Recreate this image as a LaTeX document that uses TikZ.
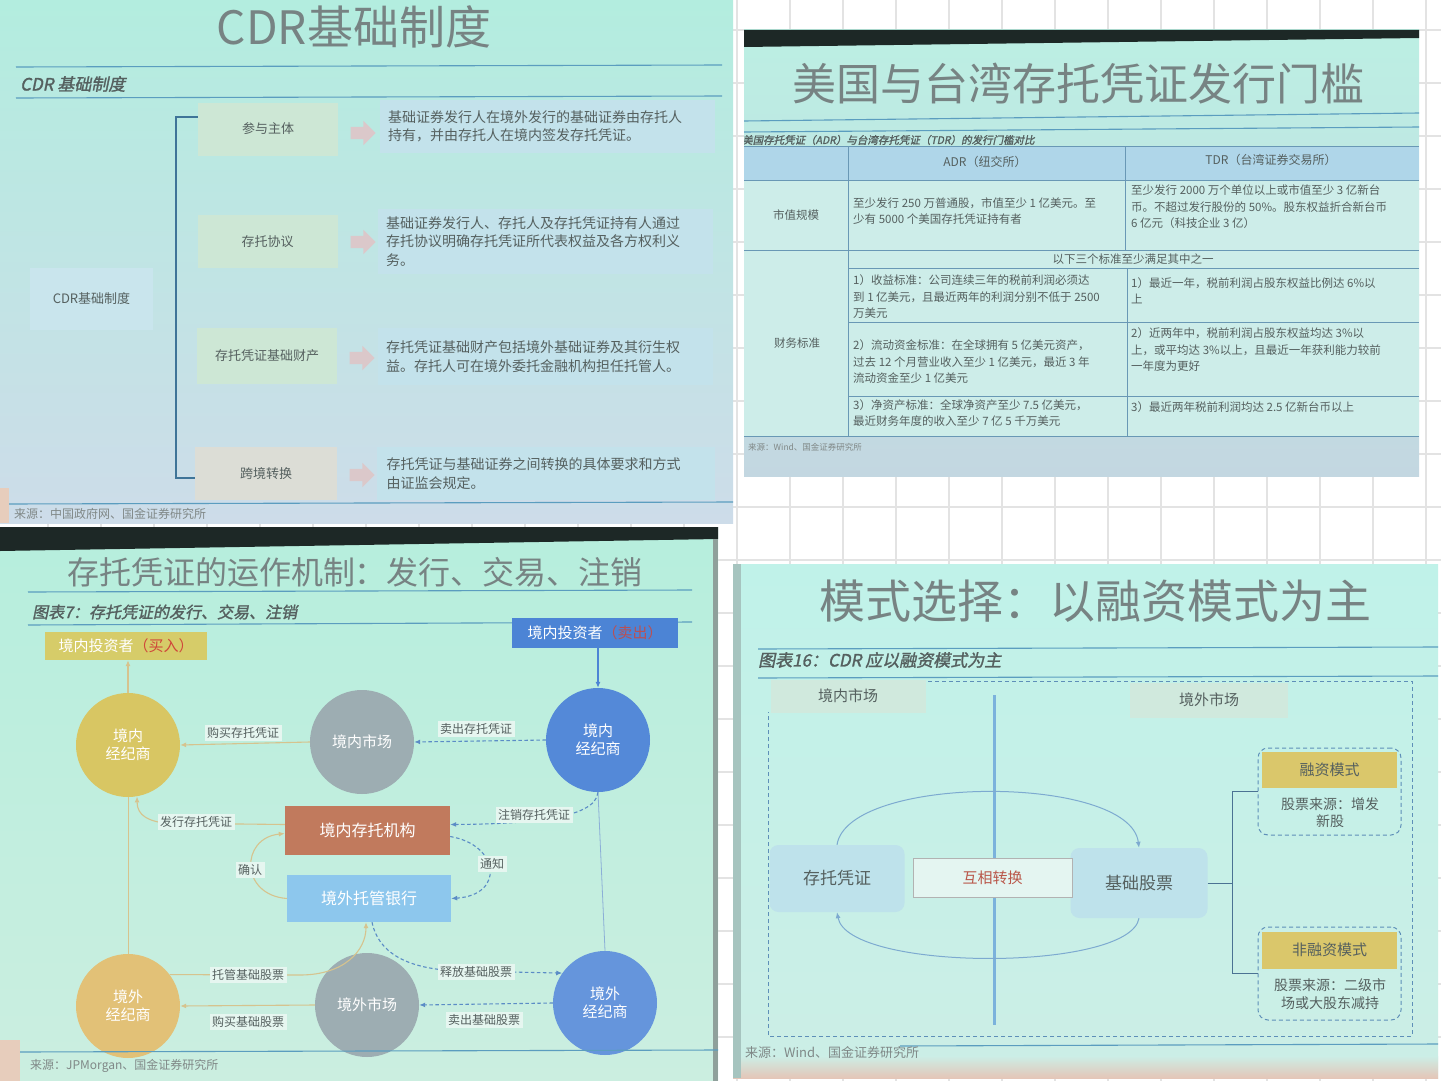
\documentclass[tikz,border=0pt]{standalone}
\usepackage{fontspec}
\setmainfont{Noto Sans CJK SC}
\newfontfamily\slantcjk[FakeSlant=0.2,FakeBold=1.5]{Noto Sans CJK SC}
\usetikzlibrary{shapes.arrows,arrows.meta,calc}
\newcommand{\fsz}[2]{\fontsize{#1}{#2}\selectfont}

\definecolor{gridc}{HTML}{E3E3E3}
\definecolor{darkedge}{HTML}{1D2826}
\definecolor{titlec}{HTML}{778383}
\definecolor{bodyc}{HTML}{55605F}
\definecolor{rulec}{HTML}{5B9DBF}
% sheet 1
\definecolor{aTop}{HTML}{B3EDDF}
\definecolor{aBot}{HTML}{CDDCE9}
\definecolor{aGreen}{HTML}{CDE7D5}
\definecolor{aBlue}{HTML}{C3E2EB}
\definecolor{aBeige}{HTML}{DCDDD6}
\definecolor{aArrow}{HTML}{DBC8CA}
\definecolor{aBracket}{HTML}{3F7498}
% sheet 2
\definecolor{bTop}{HTML}{BCEFE3}
\definecolor{bBot}{HTML}{C3D7E1}
\definecolor{bHead}{HTML}{AFD6E9}
\definecolor{bBody}{HTML}{CDEDE9}
\definecolor{bLine}{HTML}{4E86A8}
% sheet 3
\definecolor{cTop}{HTML}{B6EEDD}
\definecolor{cBot}{HTML}{CBEEE0}
\definecolor{cYellow}{HTML}{D6CC69}
\definecolor{cYellowC}{HTML}{D8C663}
\definecolor{cOrange}{HTML}{E2C177}
\definecolor{cGray}{HTML}{9DADB2}
\definecolor{cBlue}{HTML}{4C84D5}
\definecolor{cBlueC}{HTML}{5489D8}
\definecolor{cBrown}{HTML}{C17A5D}
\definecolor{cSky}{HTML}{8DC7ED}
\definecolor{cTan}{HTML}{D6C38E}
\definecolor{cDash}{HTML}{5B8CC6}
\definecolor{cLab}{HTML}{E6F6F0}
\definecolor{cRed}{HTML}{D0463A}
\definecolor{cEdge}{HTML}{8FA09B}
% sheet 4
\definecolor{dTop}{HTML}{C0F2E9}
\definecolor{dBot}{HTML}{CCEEE6}
\definecolor{dHead}{HTML}{D0E9DD}
\definecolor{dBox}{HTML}{BEE2EB}
\definecolor{dConv}{HTML}{E4F5F1}
\definecolor{dYellow}{HTML}{DAC76B}
\definecolor{dDiv}{HTML}{7BB2DC}
\definecolor{dDash}{HTML}{5E8FB8}
\definecolor{dArc}{HTML}{7DAAD0}
\definecolor{dRed}{HTML}{B9574A}
\definecolor{dPeach}{HTML}{E4C6B8}

\tikzset{
  ttl/.style={text=titlec, inner sep=0pt},
  subt/.style={font=\slantcjk\fsz{17}{20}, text=bodyc, inner sep=0pt, anchor=west},
  rulel/.style={draw=rulec, line width=1.1pt},
  src/.style={font=\fsz{12}{14}, text=bodyc!75, anchor=west, inner sep=0pt},
  gbox/.style={fill=aGreen, minimum width=140pt, minimum height=53pt, font=\fsz{13}{16}, text=bodyc, inner sep=0pt},
  tbox/.style={fill=aBlue, minimum width=335pt, minimum height=55pt, text width=319pt, align=left, font=\fsz{14}{18.5}, text=bodyc, inner sep=8pt},
  blk/.style={single arrow, fill=aArrow, text height=6pt, text depth=6pt, minimum height=25pt, single arrow head extend=6pt, inner sep=0pt},
  tline/.style={draw=bLine!85, line width=0.9pt},
  cell/.style={font=\fsz{11.5}{16.5}, text=bodyc, align=left, anchor=west, inner sep=0pt},
  circ/.style={circle, minimum size=104pt, inner sep=0pt, text=white, font=\fsz{15}{18}, align=center},
  cbox/.style={minimum width=165pt, minimum height=49pt, inner sep=0pt, text=white, font=\fsz{16}{18}},
  tanl/.style={draw=cTan, line width=1.1pt},
  bdash/.style={draw=cDash, line width=1.1pt, dash pattern=on 3.5pt off 2.5pt},
  tipa/.style={-{Latex[length=6pt,width=5pt]}},
  clab/.style={fill=cLab, font=\fsz{12}{14}, text=bodyc, inner sep=2.5pt},
  dhead/.style={fill=dHead, minimum width=155pt, minimum height=33pt, font=\fsz{15}{18}, text=bodyc, inner sep=0pt},
  dround/.style={fill=dBox, rounded corners=9pt, minimum width=135pt, minimum height=68pt, font=\fsz{17}{20}, text=bodyc, inner sep=0pt},
  ybox/.style={fill=dYellow, minimum width=135pt, minimum height=36pt, font=\fsz{15}{18}, text=bodyc, inner sep=0pt},
  grp/.style={draw=dDash, dash pattern=on 4pt off 3pt, line width=1pt, rounded corners=10pt, minimum width=143pt, inner sep=0pt},
  treel/.style={draw=dDash!80!black, line width=0.8pt},
}

\begin{document}
\begin{tikzpicture}[x=1pt,y=-1pt]
\useasboundingbox (0,0) rectangle (1441,1081);

% squared backdrop
\fill[white] (0,0) rectangle (1441,1081);
\foreach \gx in {48,101,...,1441} \draw[gridc, line width=2pt] (\gx,0) -- (\gx,1081);
\foreach \gy in {30,83,...,1081} \draw[gridc, line width=2pt] (0,\gy) -- (1441,\gy);

%================ sheet 1: CDR basic system ================
\begin{scope}
\clip (0,0) rectangle (733,523);
\shade[top color=aTop, bottom color=aBot] (0,0) rectangle (733,523);
\node[ttl, font=\fsz{46}{50}] (tA) at (354,27) {CDR基础制度};
\draw[rulel] (16,67) -- (722,65);
\node[subt] (sA) at (20,84) {CDR 基础制度};
\draw[rulel] (16,98) -- (722,96);

\node[fill=aBlue!90!white, minimum width=123pt, minimum height=62pt, font=\fsz{13}{16}, text=bodyc, inner sep=0pt] (A0) at (91.5,299) {CDR基础制度};

\node[gbox] (A1) at (268,129) {参与主体};
\node[gbox] (A2) at (267.5,241.5) {存托协议};
\node[gbox, minimum height=56pt] (A3) at (267,356) {存托凭证基础财产};
\node[gbox, fill=aBeige, minimum width=142pt] (A4) at (266,473.5) {跨境转换};

\node[blk] (r1) at (360,133) {};
\node[blk] (r2) at (360,242) {};
\node[blk] (r3) at (359,358) {};
\node[blk] (r4) at (359,475) {};

\node[tbox, minimum height=53pt] (T1) at (547.5,126.5) {基础证券发行人在境外发行的基础证券由存托人\\持有，并由存托人在境内签发存托凭证。};
\node[tbox, minimum height=57pt] (T2) at (545.5,241.5) {基础证券发行人、存托人及存托凭证持有人通过\\存托协议明确存托凭证所代表权益及各方权利义\\务。};
\node[tbox, minimum height=57pt] (T3) at (545.5,356.5) {存托凭证基础财产包括境外基础证券及其衍生权\\益。存托人可在境外委托金融机构担任托管人。};
\node[tbox, minimum height=53pt, minimum width=338pt] (T4) at (546,473.5) {存托凭证与基础证券之间转换的具体要求和方式\\由证监会规定。};

\coordinate (btop) at (176,117);
\coordinate (bbot) at (176,478);
\draw[draw=aBracket, line width=1.2pt] (A1.west |- btop) -- (btop) -- (bbot) -- (A4.west |- bbot);

\draw[rulel] (8,504) -- (733,502);
\node[src] (srcA) at (14,514) {来源：中国政府网、国金证券研究所};
\fill[dPeach!80!brown!70] (0,488) rectangle (9,523);
\end{scope}

%================ sheet 2: ADR / TDR thresholds ================
\begin{scope}
\clip (744,30) rectangle (1419,476);
\shade[top color=bTop, bottom color=bBot] (744,30) rectangle (1419,476);
\fill[darkedge] (744,30) -- (1419,30) -- (1419,38) -- (744,47) -- cycle;
\node[ttl, font=\fsz{44}{48}] (tB) at (1078,84) {美国与台湾存托凭证发行门槛};
\draw[rulel] (744,121) -- (1419,113);
\draw[rulel] (744,132) -- (1419,127);
\node[font=\slantcjk\fsz{10.5}{12}, text=bodyc, anchor=west, inner sep=0pt] (sB) at (742,140) {美国存托凭证（ADR）与台湾存托凭证（TDR）的发行门槛对比};

\fill[bBody] (744,146) rectangle (1419,436);
\fill[bHead] (744,146) rectangle (1419,180);
\draw[tline] (744,146) -- (1419,146);
\draw[tline] (744,180) -- (1419,180);
\draw[tline] (744,250) -- (1419,250);
\draw[tline] (848,268) -- (1419,268);
\draw[tline] (848,322) -- (1419,322);
\draw[tline] (848,396) -- (1419,396);
\draw[tline] (744,436) -- (1419,436);
\draw[tline] (848,146) -- (848,436);
\draw[tline] (1125,146) -- (1125,250);
\draw[tline] (1127,268) -- (1127,436);

\node[cell, anchor=center, font=\fsz{12}{14}] (hA) at (985,162) {ADR（纽交所）};
\node[cell, anchor=center, font=\fsz{12}{14}] (hT) at (1271,160) {TDR（台湾证券交易所）};
\node[cell, anchor=center] (rS) at (796,215) {市值规模};
\node[cell, anchor=center] (rF) at (797,343) {财务标准};
\node[cell] (c11) at (853,211) {至少发行 250 万普通股，市值至少 1 亿美元。至\\少有 5000 个美国存托凭证持有者};
\node[cell] (c12) at (1131,207) {至少发行 2000 万个单位以上或市值至少 3 亿新台\\币。不超过发行股份的 50\%。股东权益折合新台币\\6 亿元（科技企业 3 亿）};
\node[cell, anchor=center] (cAll) at (1133,259) {以下三个标准至少满足其中之一};
\node[cell] (c21) at (853,297) {1）收益标准：公司连续三年的税前利润必须达\\到 1 亿美元，且最近两年的利润分别不低于 2500\\万美元};
\node[cell] (c22) at (1131,291) {1）最近一年，税前利润占股东权益比例达 6\%以\\上};
\node[cell] (c31) at (853,362) {2）流动资金标准：在全球拥有 5 亿美元资产，\\过去 12 个月营业收入至少 1 亿美元，最近 3 年\\流动资金至少 1 亿美元};
\node[cell] (c32) at (1131,350) {2）近两年中，税前利润占股东权益均达 3\%以\\上，或平均达 3\%以上，且最近一年获利能力较前\\一年度为更好};
\node[cell] (c41) at (853,413) {3）净资产标准：全球净资产至少 7.5 亿美元，\\最近财务年度的收入至少 7 亿 5 千万美元};
\node[cell] (c42) at (1131,407) {3）最近两年税前利润均达 2.5 亿新台币以上};

\node[src, font=\fsz{8.5}{10}] (srcB) at (748,447) {来源：Wind、国金证券研究所};
\end{scope}

%================ sheet 3: issue, trading, cancellation ================
\begin{scope}
\clip (0,527) rectangle (718,1081);
\shade[top color=cTop, bottom color=cBot] (0,527) rectangle (718,1081);
\fill[darkedge] (0,527) -- (718,527) -- (718,539) -- (0,551) -- cycle;
\fill[cEdge] (713,539) rectangle (718,1081);
\node[ttl, font=\fsz{32}{36}] (tC) at (355,572) {存托凭证的运作机制：发行、交易、注销};
\draw[rulel] (28,592) -- (692,590);
\node[subt, font=\slantcjk\fsz{16}{18}] (sC) at (32,612) {图表7：存托凭证的发行、交易、注销};
\draw[rulel] (28,625) -- (692,622);

\node[fill=cYellow, minimum width=162pt, minimum height=28pt, inner sep=0pt, text=white, font=\fsz{15}{18}] (invB) at (126,646) {境内投资者{\color{cRed}（买入）}};
\node[fill=cBlue, minimum width=166pt, minimum height=30pt, inner sep=0pt, text=white, font=\fsz{15}{18}] (invS) at (595,633) {境内投资者{\color{cRed!85!cBlue}（卖出）}};

\node[circ, fill=cYellowC] (bkDY) at (128,745) {境内\\经纪商};
\node[circ, fill=cGray] (mkD) at (362,742) {境内市场};
\node[circ, fill=cBlueC] (bkDB) at (598,740) {境内\\经纪商};
\node[circ, fill=cOrange] (bkOY) at (128,1006) {境外\\经纪商};
\node[circ, fill=cGray] (mkO) at (367,1005) {境外市场};
\node[circ, fill=cBlueC!90!white] (bkOB) at (605,1003) {境外\\经纪商};

\node[cbox, fill=cBrown] (dep) at (367.5,830.5) {境内存托机构};
\node[cbox, fill=cSky, minimum width=164pt, minimum height=47pt] (cus) at (369,898.5) {境外托管银行};

% links
\draw[tanl, tipa] (bkDY.north) -- (bkDY.north |- invB.south);
\draw[draw=cBlue, line width=1.1pt, tipa] (bkDB.north |- invS.south) -- (bkDB.north);
\draw[tanl, tipa] (mkD.west) -- (bkDY.east);
\draw[bdash, tipa] (bkDB.west) -- (mkD.east);
\draw[tanl, line width=0.8pt] (bkDY.south) -- (bkOY.north);
\draw[draw=cDash!70, line width=0.8pt] (bkDB.south) -- (bkOB.north);
\draw[tanl, tipa] ([yshift=6pt]dep.west) -- (240,824) .. controls (185,824) and (137,830) .. (bkDY.-80);
\draw[bdash, tipa] (bkDB.south) .. controls (596,820) and (520,824) .. ([yshift=6pt]dep.east);
\draw[bdash, tipa] ([yshift=-6pt]dep.east) .. controls (500,845) and (505,895) .. (cus.east);
\draw[tanl, tipa] (cus.west) .. controls (240,895) and (240,838) .. ([yshift=-3pt]dep.west);
\draw[tanl, tipa] (bkOY.37) -- (300,975) .. controls (345,975) and (366,950) .. ([xshift=-3pt]cus.south);
\draw[bdash, tipa] ([xshift=3pt]cus.south) .. controls (380,960) and (420,970) .. (462,971) -- (bkOB.145);
\draw[tanl, tipa] (mkO.west) -- (bkOY.east);
\draw[bdash, tipa] (bkOB.west) -- (mkO.east);

\node[clab] (l1) at (243,733) {购买存托凭证};
\node[clab] (l2) at (476,729) {卖出存托凭证};
\node[clab] (l3) at (196,822) {发行存托凭证};
\node[clab] (l4) at (534,815) {注销存托凭证};
\node[clab] (l5) at (250,870) {确认};
\node[clab] (l6) at (492,864) {通知};
\node[clab] (l7) at (248,975) {托管基础股票};
\node[clab] (l8) at (476,972) {释放基础股票};
\node[clab] (l9) at (248,1022) {购买基础股票};
\node[clab] (l10) at (484,1020) {卖出基础股票};

\draw[rulel] (20,1052) -- (718,1050);
\node[src] (srcC) at (30,1066) {来源：JPMorgan、国金证券研究所};
\fill[dPeach!80!brown!70] (0,1040) rectangle (20,1081);
\end{scope}

%================ sheet 4: financing mode ================
\begin{scope}
\clip (733,564) rectangle (1438,1078);
\shade[top color=dTop, bottom color=dBot] (733,564) rectangle (1438,1078);
\shade[top color=dBot, bottom color=dPeach] (733,1056) rectangle (1438,1078);
\fill[gray!40!dTop] (733,564) rectangle (741,1078);
\node[ttl, font=\fsz{46}{50}] (tD) at (1095,601) {模式选择：以融资模式为主};
\draw[rulel] (758,649) -- (1438,647);
\node[subt] (sD) at (758,660) {图表16：CDR 应以融资模式为主};
\draw[rulel] (758,678) -- (1438,676);

% outer dashed frame
\draw[draw=dDash, dash pattern=on 4pt off 3pt, line width=1pt] (928,681) -- (1412,681) -- (1412,1036) -- (768,1036) -- (768,712);

\node[dhead] (hIn) at (848,696) {境内市场};
\node[dhead, minimum width=158pt, minimum height=35pt] (hOut) at (1209,700) {境外市场};

\coordinate (divT) at (994,695);
\coordinate (divB) at (994,1025);
\draw[draw=dDiv, line width=3pt] (divT) -- (divB);

\node[dround, minimum height=67pt] (dr) at (837,878.5) {存托凭证};
\node[dround, minimum width=137pt, minimum height=70pt] (stk) at (1139,883) {基础股票};
\node[fill=dConv, draw=gray!60, minimum width=159pt, minimum height=39pt, inner sep=0pt, text=dRed, font=\fsz{15}{18}] (conv) at (992.5,878) {互相转换};

\draw[draw=dArc, line width=1pt, tipa] (dr.north) .. controls (848,774) and (1130,774) .. (stk.north);
\draw[draw=dArc, line width=1pt, tipa] (stk.south) .. controls (1130,972) and (848,972) .. (dr.south);

\node[grp, minimum height=87pt] (finG) at (1329.5,791.5) {};
\node[grp, minimum height=93pt] (nfinG) at (1329.5,973.5) {};
\node[ybox] (fin) at (1329.5,769.5) {融资模式};
\node[ybox, minimum height=37pt] (nfin) at (1329.5,950) {非融资模式};
\node[font=\fsz{14}{17}, text=bodyc, align=center, inner sep=0pt] (finT) at (1330,813) {股票来源：增发\\新股};
\node[font=\fsz{14}{18}, text=bodyc, align=center, inner sep=0pt] (nfinT) at (1330,994) {股票来源：二级市\\场或大股东减持};

\coordinate (tj) at (1232,883);
\draw[treel] (stk.east) -- (tj);
\draw[treel] (tj) |- (finG.west);
\draw[treel] (tj) |- (nfinG.west);

\draw[rulel] (900,1046) -- (1438,1044);
\node[src, font=\fsz{13}{15}] (srcD) at (745,1053) {来源：Wind、国金证券研究所};
\end{scope}

\end{tikzpicture}
\end{document}
